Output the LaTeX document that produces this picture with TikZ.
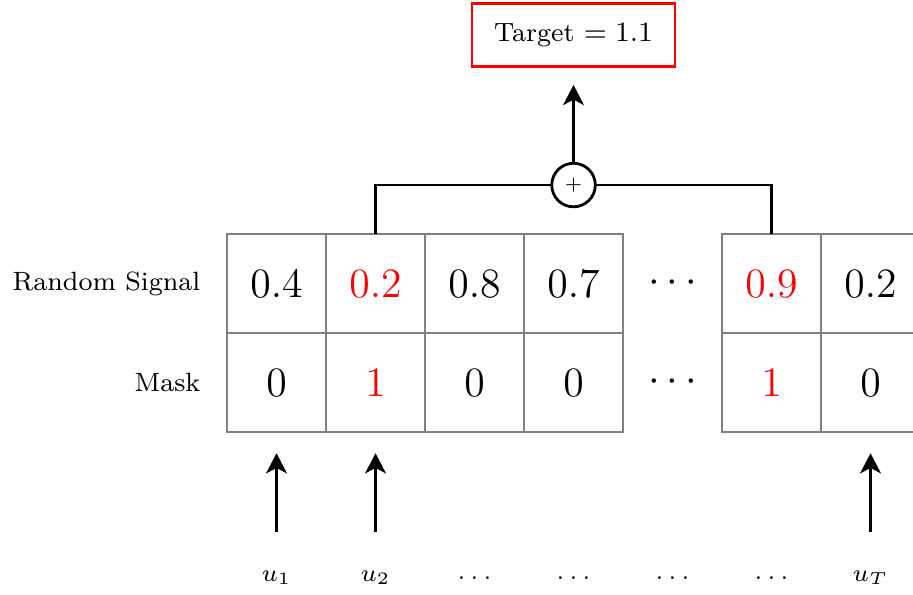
\documentclass[tikz,border=0pt]{standalone}
\usetikzlibrary{arrows.meta}
\tikzset{
  cell/.style={draw=gray, thick, minimum size=1cm, inner sep=0pt, font=\fontsize{12.9}{15}\selectfont},
  hot/.style={text=red},
  rowlabel/.style={anchor=east, inner sep=0pt, font=\fontsize{7.6}{9}\selectfont},
  inlabel/.style={inner sep=0pt, font=\scriptsize},
  link/.style={thick, line cap=rect},
  arrowup/.style={thick, -{Stealth[length=5.8pt,width=6pt,inset=1.6pt]}},
  target/.style={draw=red, thick, minimum width=2.05cm, minimum height=0.64cm, font=\fontsize{7.6}{9}\selectfont},
  adder/.style={draw, thick, circle, minimum size=0.44cm, inner sep=0pt, font=\tiny}
}
\begin{document}
\begin{tikzpicture}
\useasboundingbox (0,0) rectangle (9.222,6);
\clip (0,0) rectangle (9.222,6);

% signal row (top) and mask row (bottom)
\foreach \k/\v/\m/\c in {1/0.4/0/, 2/0.2/1/hot, 3/0.8/0/, 4/0.7/0/, 6/0.9/1/hot, 7/0.2/0/} {
  \node[cell, \c] (s\k) at (2.293+\k-0.5, 3.136) {$\v$};
  \node[cell, \c] (m\k) at (2.293+\k-0.5, 2.136) {$\m$};
}
\node[font=\large] (sdots) at (6.793, 3.136) {$\cdots$};
\node[font=\large] (mdots) at (6.793, 2.136) {$\cdots$};

% row labels
\node[rowlabel] (lsig) at (2.03, 3.136) {Random Signal};
\node[rowlabel] (lmask) at (2.03, 2.136) {Mask};

% inputs
\node[inlabel] (u1) at (2.793, 0.162) {$u_1$};
\node[inlabel] (u2) at (3.793, 0.162) {$u_2$};
\node[inlabel] (d3) at (4.793, 0.162) {$\ldots$};
\node[inlabel] (d4) at (5.793, 0.162) {$\ldots$};
\node[inlabel] (d5) at (6.793, 0.162) {$\ldots$};
\node[inlabel] (d6) at (7.793, 0.162) {$\ldots$};
\node[inlabel] (uT) at (8.793, 0.162) {$u_T$};

\draw[arrowup, shorten <=0.464cm, shorten >=0.2cm] (u1.center) -- (m1.south);
\draw[arrowup, shorten <=0.464cm, shorten >=0.2cm] (u2.center) -- (m2.south);
\draw[arrowup, shorten <=0.464cm, shorten >=0.2cm] (uT.center) -- (m7.south);

% summation of the selected entries
\node[adder] (plus) at (5.793, 4.131) {$+$};
\draw[link] (s2.north) |- (plus.west);
\draw[link] (s6.north) |- (plus.east);

\node[target] (tgt) at (5.793, 5.646) {Target $=1.1$};
\draw[arrowup, shorten >=0.17cm] (plus.north) -- (tgt.south);
\end{tikzpicture}
\end{document}
